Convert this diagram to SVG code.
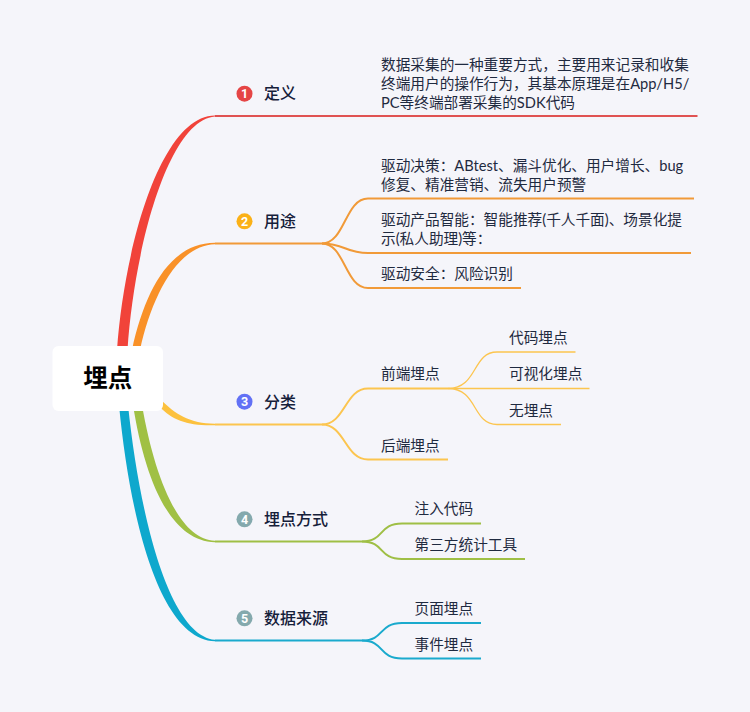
<svg xmlns="http://www.w3.org/2000/svg" width="750" height="712" viewBox="0 0 750 712">
<style>
text{font-family:"Lato","Noto Sans CJK SC",sans-serif;fill:#1f2a40;font-size:14.67px}
.t{font-size:16px;font-weight:500;fill:#15203a}
.b{font-size:12.5px;font-weight:700;fill:#fff;text-anchor:middle;font-family:"Roboto","Noto Sans",sans-serif}
.l{fill:none;stroke-linecap:butt}
.r{stroke:#e05252}.o{stroke:#f19a38}.y{stroke:#fcc54f}.g{stroke:#9fbf45}.c{stroke:#1aaacd}
</style>
<rect width="750" height="712" fill="#f5f5fa"/>
<g id="connectors">
<path fill="#f1433a" d="M117,350C124,250 160,116 215,115.500L215,116.500C168,120 134,250 127.500,350Z"/>
<path fill="#f99128" d="M132,350C145,290 170,243 215,242.800L215,244.200C178,245 152,295 140,350Z"/>
<path fill="#fcc13e" d="M160,399C175,414 190,423.700 215,423.700L215,425.200C188,426 172,420 160,407Z"/>
<path fill="#a0c044" d="M133,405C145,480 170,541 215,542.200L215,540.800C180,540 155,480 142,405Z"/>
<path fill="#0ea8cd" d="M119,405C130,520 160,640 215,641.200L215,639.800C170,636 140,520 128,405Z"/>
<path class="l r" stroke-width="2" d="M215,116H697.500"/>
<path class="l o" stroke-width="2" d="M215,243.500H322"/>
<path class="l o" stroke-width="2" d="M322,243.500C345,243.500 345,198.500 368,198.500H694"/>
<path class="l o" stroke-width="2" d="M322,243.500C345,243.500 345,253 368,253H691"/>
<path class="l o" stroke-width="2" d="M322,243.500C345,243.500 345,288 368,288H521"/>
<path class="l y" stroke-width="2" d="M215,424.500H322"/>
<path class="l y" stroke-width="2" d="M322,424.500C345,424.500 345,388.500 368,388.500H448"/>
<path class="l y" stroke-width="2" d="M322,424.500C345,424.500 345,459.500 368,459.500H448"/>
<path class="l y" stroke-width="1.300" d="M448,388.500C478,388.500 472,352 497,352H575.500"/>
<path class="l y" stroke-width="1.300" d="M448,388.500H589.500"/>
<path class="l y" stroke-width="1.300" d="M448,388.500C478,388.500 472,424.500 497,424.500H561"/>
<path class="l g" stroke-width="2" d="M215,541.500H362"/>
<path class="l g" stroke-width="2" d="M362,541.500C385,541.500 378,523.500 402,523.500H481"/>
<path class="l g" stroke-width="2" d="M362,541.500C385,541.500 378,559 402,559H525"/>
<path class="l c" stroke-width="2" d="M215,640.500H362"/>
<path class="l c" stroke-width="2" d="M362,640.500C385,640.500 378,623 402,623H481"/>
<path class="l c" stroke-width="2" d="M362,640.500C385,640.500 378,658.500 402,658.500H481"/>
</g>
<g id="root"><rect x="52.500" y="346" width="110.500" height="65" rx="6" fill="#fff"/><text x="107.700" y="387" text-anchor="middle" style="font-size:24.500px;font-weight:700;fill:#000">埋点</text></g>
<g id="n1"><circle cx="244.500" cy="93.700" r="8" fill="#e54545"/><text class="b" x="244.500" y="98">1</text><text class="t" x="264" y="98.500">定义</text></g>
<g id="n2"><circle cx="244.500" cy="221.300" r="8" fill="#fbb117"/><text class="b" x="244.500" y="225.600">2</text><text class="t" x="264" y="227">用途</text></g>
<g id="n3"><circle cx="244.500" cy="401.700" r="8" fill="#6271f5"/><text class="b" x="244.500" y="406">3</text><text class="t" x="264" y="407.500">分类</text></g>
<g id="n4"><circle cx="244.500" cy="519.300" r="8" fill="#84a9ad"/><text class="b" x="244.500" y="523.600">4</text><text class="t" x="264" y="525">埋点方式</text></g>
<g id="n5"><circle cx="244.500" cy="618.300" r="8" fill="#84a9ad"/><text class="b" x="244.500" y="622.600">5</text><text class="t" x="264" y="624">数据来源</text></g>
<g id="n1a"><text x="381" y="69.500">数据采集的一种重要方式，主要用来记录和收集</text><text x="381" y="88.500">终端用户的操作行为，其基本原理是在App/H5/</text><text x="381" y="107.500">PC等终端部署采集的SDK代码</text></g>
<g id="n2a"><text x="381" y="170.500">驱动决策：ABtest、漏斗优化、用户增长、bug</text><text x="381" y="189.500">修复、精准营销、流失用户预警</text></g>
<g id="n2b"><text x="381" y="225">驱动产品智能：智能推荐(千人千面)、场景化提</text><text x="381" y="244">示(私人助理)等：</text></g>
<g id="n2c"><text x="381" y="279">驱动安全：风险识别</text></g>
<g id="n3a"><text x="381" y="379">前端埋点</text></g>
<g id="n3b"><text x="381" y="450.500">后端埋点</text></g>
<g id="n3a1"><text x="509" y="343">代码埋点</text></g>
<g id="n3a2"><text x="509" y="379">可视化埋点</text></g>
<g id="n3a3"><text x="509" y="416">无埋点</text></g>
<g id="n4a"><text x="414.500" y="514">注入代码</text></g>
<g id="n4b"><text x="414.500" y="550">第三方统计工具</text></g>
<g id="n5a"><text x="414.500" y="614">页面埋点</text></g>
<g id="n5b"><text x="414.500" y="649.500">事件埋点</text></g>
</svg>
